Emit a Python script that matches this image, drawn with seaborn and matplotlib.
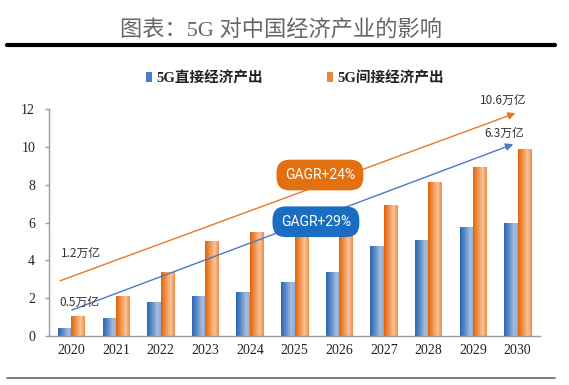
import numpy as np
import pandas as pd
import matplotlib
matplotlib.use("Agg")
import matplotlib.pyplot as plt
import seaborn as sns
from matplotlib.colors import LinearSegmentedColormap, to_rgb
from matplotlib.patches import Patch
from matplotlib.lines import Line2D

# ---- data ----
years = ["2020", "2021", "2022", "2023", "2024", "2025", "2026", "2027", "2028", "2029", "2030"]
direct = [0.44, 0.97, 1.81, 2.13, 2.34, 2.84, 3.40, 4.78, 5.08, 5.75, 5.96]
indirect = [1.06, 2.13, 3.40, 5.03, 5.52, 5.80, 6.30, 6.93, 8.16, 8.92, 9.89]
series_names = ["5G直接经济产出", "5G间接经济产出"]
title = "图表：5G 对中国经济产业的影响"
yticks = [0, 2, 4, 6, 8, 10, 12]
value_labels = ["10.6万亿", "6.3万亿", "1.2万亿", "0.5万亿"]
cagr_labels = ["GAGR+24%", "GAGR+29%"]

BLUE = "#4A7EC2"
ORANGE = "#EE8434"

sns.set_style("white")
plt.rcParams["font.family"] = ["Noto Sans CJK SC", "DejaVu Sans"]

df = pd.DataFrame({
    "year": years * 2,
    "value": direct + indirect,
    "series": [series_names[0]] * len(years) + [series_names[1]] * len(years),
})

fig = plt.figure(figsize=(5.69, 3.85), dpi=100)
ax = fig.add_axes([49 / 569, 49 / 385, 491 / 569, 227 / 385])

sns.barplot(data=df, x="year", y="value", hue="series", palette=[BLUE, ORANGE],
            width=0.6, gap=0, ax=ax, legend=False, saturation=1)

# gradient shading on bars
blue_cmap = LinearSegmentedColormap.from_list(
    "b", [(0, "#2D66B0"), (0.35, "#5B8BC8"), (0.75, "#A8BFDD"), (1, "#8AA8D3")])
orange_cmap = LinearSegmentedColormap.from_list(
    "o", [(0, "#DF650C"), (0.3, "#F08B3F"), (0.7, "#FAC39A"), (1, "#EF8C46")])
grad = np.linspace(0, 1, 64).reshape(1, -1)
for bar in list(ax.patches):
    x0, y0 = bar.get_x(), bar.get_y()
    w, h = bar.get_width(), bar.get_height()
    fc = np.array(bar.get_facecolor()[:3])
    cmap = blue_cmap if np.allclose(fc, to_rgb(BLUE), atol=0.02) else orange_cmap
    im = ax.imshow(grad, extent=[x0, x0 + w, y0, y0 + h], aspect="auto", cmap=cmap,
                   zorder=2, interpolation="bilinear")
    im.set_clip_path(bar)
    bar.set_facecolor("none")
    bar.set_edgecolor("none")

ax.set_xlim(-0.5, 10.5)
ax.set_ylim(0, 12)
ax.set_xlabel("")
ax.set_ylabel("")
ax.set_yticks(yticks)

for s in ["top", "right"]:
    ax.spines[s].set_visible(False)
for s in ["left", "bottom"]:
    ax.spines[s].set_color("#9A9A9A")
    ax.spines[s].set_linewidth(1.0)

ax.set_xticks(np.arange(-0.5, 11, 1), minor=True)
ax.tick_params(axis="x", which="major", length=0, pad=6)
ax.tick_params(axis="x", which="minor", length=3, direction="out", color="#9A9A9A", width=1)
ax.tick_params(axis="y", length=3, direction="out", color="#9A9A9A", width=1, pad=7, left=True)
for lab in ax.get_xticklabels() + ax.get_yticklabels():
    lab.set_fontfamily("Liberation Serif")
    lab.set_fontsize(10)
    lab.set_color("#222222")

# trend arrows
ax.annotate("", xy=(9.95, 11.78), xytext=(-0.25, 2.92),
            arrowprops=dict(arrowstyle="-|>", color="#E5782A", lw=1.0, mutation_scale=11,
                            shrinkA=0, shrinkB=0), zorder=4, annotation_clip=False)
ax.annotate("", xy=(9.9, 10.14), xytext=(0.01, 1.37),
            arrowprops=dict(arrowstyle="-|>", color="#4C79C0", lw=1.0, mutation_scale=11,
                            shrinkA=0, shrinkB=0), zorder=4, annotation_clip=False)

# value labels
lab_kw = dict(fontsize=8.5, color="#333333", ha="center", va="center", zorder=5,
              family=["Noto Sans CJK SC", "DejaVu Sans"])
ax.text(9.67, 12.44, value_labels[0], clip_on=False, **lab_kw)
ax.text(9.70, 10.73, value_labels[1], **lab_kw)
ax.text(0.21, 4.37, value_labels[2], **lab_kw)
ax.text(0.17, 1.76, value_labels[3], **lab_kw)

# CAGR bubbles
ax.text(5.57, 8.51, cagr_labels[0], fontsize=10, color="white", ha="center", va="center",
        family="Roboto", zorder=6,
        bbox=dict(boxstyle="round,pad=0.6,rounding_size=0.95", fc="#E2700F", ec="none"))
ax.text(5.48, 6.04, cagr_labels[1], fontsize=10, color="white", ha="center", va="center",
        family="Roboto", zorder=6,
        bbox=dict(boxstyle="round,pad=0.6,rounding_size=0.95", fc="#1B6DC1", ec="none"))

# legend
handles = [Patch(facecolor=BLUE, edgecolor="none"), Patch(facecolor=ORANGE, edgecolor="none")]
leg = fig.legend(handles, series_names, loc="center left", bbox_to_anchor=(133 / 569, 1 - 78 / 385),
                 ncol=2, frameon=False, handlelength=0.4, handleheight=0.75, handletextpad=0.3,
                 columnspacing=4.4,
                 prop=dict(family=["Liberation Serif", "Noto Sans CJK SC"], weight="bold", size=10.5))
for t in leg.get_texts():
    t.set_color("#222222")

# title and rules
fig.text(281 / 569, 1 - 31 / 385, title, ha="center", va="center", fontsize=16,
         color="#666666", family=["Liberation Serif", "Noto Sans CJK SC"])
fig.add_artist(Line2D([7 / 569, 555 / 569], [1 - 44.5 / 385] * 2, color="black", lw=3,
                      transform=fig.transFigure))
fig.add_artist(Line2D([7 / 569, 555 / 569], [1 - 378 / 385] * 2, color="#666666", lw=1.2,
                      transform=fig.transFigure))

fig.savefig("out.png", dpi=100)
